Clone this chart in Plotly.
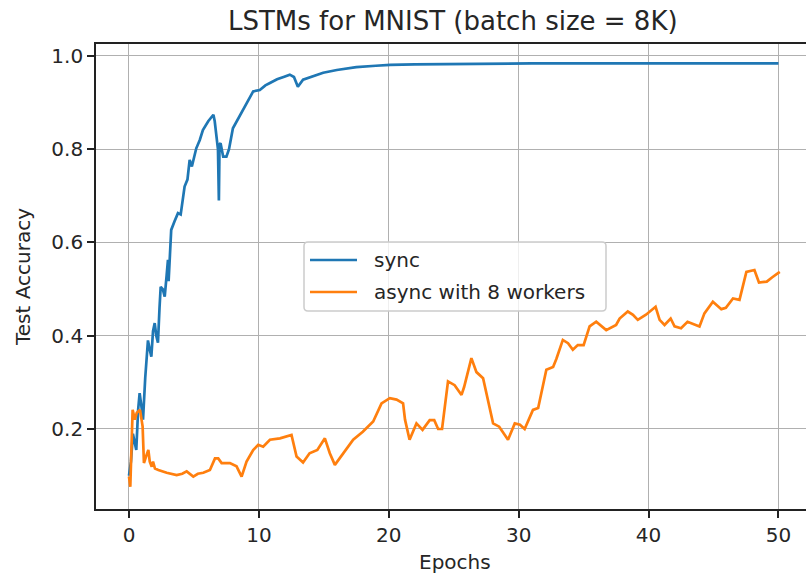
import plotly.graph_objects as go

# ---- data ----
sync_epochs = [0.0, 0.15, 0.3, 0.45, 0.56, 0.7, 0.82, 0.95, 1.08, 1.25, 1.46, 1.6, 1.72, 1.85,
               1.98, 2.1, 2.23, 2.35, 2.44, 2.6, 2.75, 2.9, 3.0, 3.05, 3.25, 3.5, 3.77, 3.98,
               4.28, 4.5, 4.67, 4.84, 5.18, 5.45, 5.69, 6.1, 6.5, 6.6, 6.85, 6.92, 6.97, 7.05,
               7.25, 7.5, 7.7, 8.0, 8.3, 8.6, 8.9, 9.2, 9.56, 10.07, 10.5, 10.85, 11.4, 11.9,
               12.38, 12.7, 13.0, 13.4, 14.0, 14.95, 16.0, 17.5, 19.0, 20.1, 22.0, 25.0, 28.0,
               31.0, 34.0, 37.0, 40.0, 43.0, 46.0, 50.0]
sync_acc = [0.10, 0.13, 0.19, 0.17, 0.155, 0.24, 0.277, 0.25, 0.22, 0.31, 0.39, 0.37, 0.355, 0.41,
            0.427, 0.40, 0.385, 0.46, 0.505, 0.50, 0.484, 0.53, 0.563, 0.517, 0.627, 0.645, 0.663, 0.66,
            0.72, 0.735, 0.777, 0.763, 0.802, 0.82, 0.841, 0.86, 0.874, 0.86, 0.80, 0.69, 0.81, 0.813,
            0.784, 0.784, 0.80, 0.845, 0.86, 0.877, 0.89, 0.906, 0.924, 0.927, 0.937, 0.942, 0.95, 0.955,
            0.96, 0.955, 0.934, 0.949, 0.955, 0.964, 0.97, 0.976, 0.979, 0.981, 0.982, 0.983, 0.983,
            0.984, 0.984, 0.984, 0.984, 0.984, 0.984, 0.984]

async_epochs = [0.0, 0.1, 0.28, 0.45, 0.6, 0.85, 1.05, 1.15, 1.3, 1.49, 1.6, 1.75, 1.85, 2.0, 2.26,
                2.9, 3.67, 4.1, 4.44, 4.95, 5.3, 5.72, 6.23, 6.62, 6.87, 7.13, 7.77, 8.28, 8.67,
                9.05, 9.56, 9.95, 10.33, 10.85, 11.62, 12.13, 12.51, 12.9, 13.4, 13.9, 14.5, 15.08,
                15.46, 15.85, 16.5, 17.26, 18.0, 18.8, 19.44, 20.08, 20.6, 21.1, 21.25, 21.6, 22.13,
                22.6, 23.15, 23.5, 23.8, 24.1, 24.56, 25.07, 25.6, 25.8, 26.36, 26.75, 27.26, 27.65,
                28.03, 28.5, 29.18, 29.7, 30.1, 30.46, 31.1, 31.5, 32.13, 32.65, 32.9, 33.4, 33.8,
                34.17, 34.55, 35.0, 35.46, 35.97, 36.74, 37.5, 37.77, 38.4, 38.8, 39.17, 39.8, 40.54,
                40.85, 41.23, 41.7, 42.0, 42.5, 43.0, 43.92, 44.3, 44.95, 45.6, 45.95, 46.5, 47.0,
                47.53, 48.15, 48.5, 49.1, 49.5, 50.1]
async_acc = [0.098, 0.076, 0.241, 0.22, 0.235, 0.241, 0.205, 0.127, 0.14, 0.155, 0.13, 0.119, 0.13, 0.115, 0.112,
             0.106, 0.101, 0.104, 0.109, 0.098, 0.104, 0.106, 0.112, 0.137, 0.137, 0.127, 0.127, 0.12, 0.098,
             0.13, 0.155, 0.166, 0.162, 0.177, 0.18, 0.184, 0.187, 0.141, 0.128, 0.148, 0.155, 0.18,
             0.148, 0.123, 0.148, 0.177, 0.194, 0.216, 0.255, 0.266, 0.263, 0.255, 0.22, 0.177, 0.212,
             0.198, 0.219, 0.219, 0.2, 0.2, 0.302, 0.294, 0.273, 0.29, 0.352, 0.322, 0.309, 0.256,
             0.212, 0.205, 0.177, 0.212, 0.209, 0.2, 0.241, 0.245, 0.327, 0.333, 0.35, 0.391, 0.384,
             0.37, 0.38, 0.38, 0.42, 0.43, 0.412, 0.423, 0.437, 0.452, 0.445, 0.434, 0.445, 0.462,
             0.434, 0.423, 0.437, 0.42, 0.416, 0.43, 0.42, 0.448, 0.473, 0.457, 0.46, 0.48, 0.477,
             0.537, 0.541, 0.514, 0.516, 0.525, 0.537]

series_names = ["sync", "async with 8 workers"]
series_colors = ["#1f77b4", "#ff7f0e"]
x_ticks = [0, 10, 20, 30, 40, 50]
y_ticks = [0.2, 0.4, 0.6, 0.8, 1.0]
y_tick_labels = ["0.2", "0.4", "0.6", "0.8", "1.0"]

title_text = "LSTMs for MNIST (batch size = 8K)"
x_label = "Epochs"
y_label = "Test Accuracy"

FONT = "DejaVu Sans, sans-serif"
TXT = "#262626"

fig = go.Figure()
fig.add_trace(go.Scatter(x=sync_epochs, y=sync_acc, mode="lines", name=series_names[0],
                         line=dict(color=series_colors[0], width=2.7), showlegend=False))
fig.add_trace(go.Scatter(x=async_epochs, y=async_acc, mode="lines", name=series_names[1],
                         line=dict(color=series_colors[1], width=2.7), showlegend=False))

W, H = 806, 573
L, R, T, B = 96, 0, 44, 64
pw, ph = W - L - R, H - T - B

fig.update_layout(
    width=W, height=H, autosize=False,
    margin=dict(l=L, r=R, t=T, b=B, pad=0),
    paper_bgcolor="white", plot_bgcolor="white",
    font=dict(family=FONT, size=20, color=TXT),
    showlegend=False,
)
fig.update_xaxes(range=[-2.54, 52.12], tickvals=x_ticks, ticktext=[str(v) for v in x_ticks],
                 showgrid=True, gridcolor="#b0b0b0", gridwidth=1.4, zeroline=False,
                 showline=True, linecolor="#222222", linewidth=1.7, mirror=True,
                 ticks="outside", ticklen=7, tickwidth=1.6, tickcolor="#222222",
                 tickfont=dict(family=FONT, size=20, color=TXT))
fig.update_yaxes(range=[0.0284, 1.0257], tickvals=y_ticks, ticktext=y_tick_labels,
                 showgrid=True, gridcolor="#b0b0b0", gridwidth=1.4, zeroline=False,
                 showline=True, linecolor="#222222", linewidth=1.7,
                 ticks="outside", ticklen=7, tickwidth=1.6, tickcolor="#222222",
                 tickfont=dict(family=FONT, size=20, color=TXT))

def px_x(p):
    return (p - L) / pw

def px_y(p):
    return (H - B - p) / ph

# title and axis labels
fig.add_annotation(text=title_text, xref="paper", yref="paper", x=px_x(453), y=px_y(21),
                   xanchor="center", yanchor="middle", showarrow=False,
                   font=dict(family=FONT, size=26, color=TXT))
fig.add_annotation(text=x_label, xref="paper", yref="paper", x=px_x(455), y=px_y(562),
                   xanchor="center", yanchor="middle", showarrow=False,
                   font=dict(family=FONT, size=20, color=TXT))
fig.add_annotation(text=y_label, xref="paper", yref="paper", x=px_x(23), y=px_y(277),
                   xanchor="center", yanchor="middle", showarrow=False, textangle=-90,
                   font=dict(family=FONT, size=20, color=TXT))

# legend box (matplotlib-style)
bx0, bx1, by0, by1 = 304, 606, 242, 311
r = 4
X0, X1 = px_x(bx0), px_x(bx1)
Y0, Y1 = px_y(by1), px_y(by0)
rx, ry = r / pw, r / ph
path = (f"M {X0+rx},{Y0} L {X1-rx},{Y0} Q {X1},{Y0} {X1},{Y0+ry} "
        f"L {X1},{Y1-ry} Q {X1},{Y1} {X1-rx},{Y1} L {X0+rx},{Y1} Q {X0},{Y1} {X0},{Y1-ry} "
        f"L {X0},{Y0+ry} Q {X0},{Y0} {X0+rx},{Y0} Z")
fig.add_shape(type="path", path=path, xref="paper", yref="paper", layer="above",
              fillcolor="rgba(255,255,255,0.8)", line=dict(color="#cccccc", width=1.5))
rows = [260, 292]
for name, color, ry_px in zip(series_names, series_colors, rows):
    fig.add_shape(type="line", xref="paper", yref="paper", layer="above",
                  x0=px_x(310), x1=px_x(357), y0=px_y(ry_px), y1=px_y(ry_px),
                  line=dict(color=color, width=2.7))
    fig.add_annotation(text=name, xref="paper", yref="paper", x=px_x(372), y=px_y(ry_px),
                       xanchor="left", yanchor="middle", showarrow=False,
                       font=dict(family=FONT, size=20, color=TXT))

fig.write_html("out.html")
